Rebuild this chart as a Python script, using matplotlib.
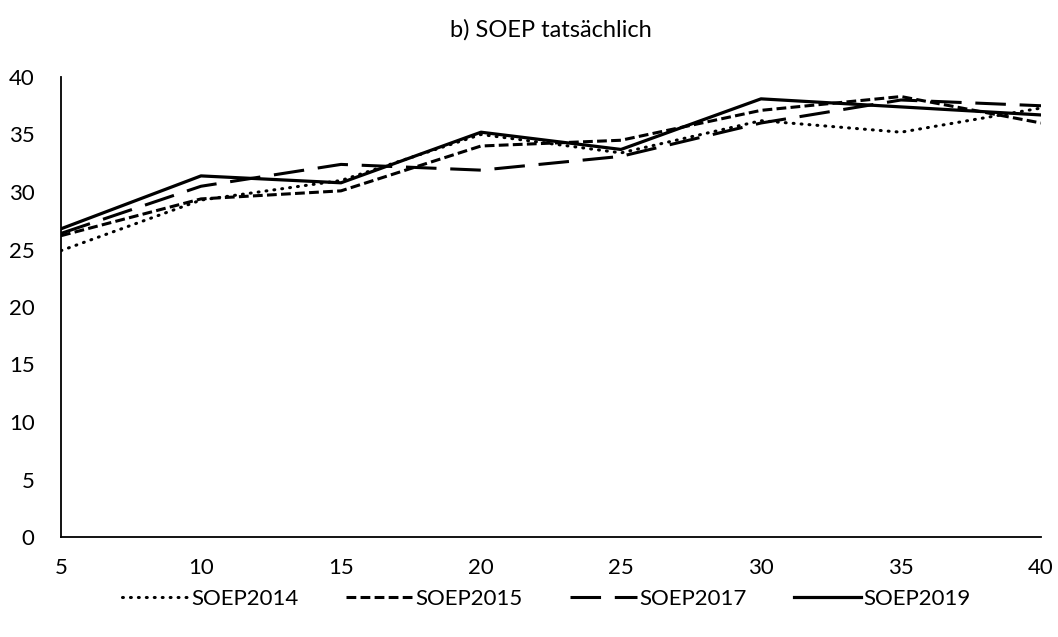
import matplotlib
matplotlib.use("Agg")
import matplotlib.pyplot as plt

plt.rcParams['font.family'] = ['Lato', 'DejaVu Sans']

# Data
x_vals = [5, 10, 15, 20, 25, 30, 35, 40]
soep2014 = [24.9, 29.3, 31.0, 35.0, 33.4, 36.2, 35.2, 37.3]
soep2015 = [26.2, 29.4, 30.1, 34.0, 34.5, 37.1, 38.3, 36.0]
soep2017 = [26.4, 30.5, 32.4, 31.9, 33.1, 36.0, 38.0, 37.5]
soep2019 = [26.8, 31.4, 30.8, 35.2, 33.7, 38.1, 37.4, 36.7]

fig = plt.figure(figsize=(10.58, 6.37), dpi=100)
ax = fig.add_axes([61 / 1058, 1 - 537 / 637, 980 / 1058, 460 / 637])

ax.plot(x_vals, soep2014, color='black', lw=2.2, linestyle=(0, (0.3, 2.3)),
        dash_capstyle='round', label='SOEP2014')
ax.plot(x_vals, soep2015, color='black', lw=2.2, linestyle=(0, (3.2, 1.4)),
        label='SOEP2015')
ax.plot(x_vals, soep2017, color='black', lw=2.2, linestyle=(0, (10, 4.5)),
        label='SOEP2017')
ax.plot(x_vals, soep2019, color='black', lw=2.3, linestyle='-',
        label='SOEP2019')

ax.set_title('b) SOEP tatsächlich', fontsize=17, pad=29)
ax.set_xlim(5, 40)
ax.set_ylim(0, 40)
ax.set_xticks(x_vals)
ax.set_yticks(range(0, 41, 5))
ax.tick_params(axis='both', length=0, labelsize=16)
ax.tick_params(axis='x', pad=15)
ax.tick_params(axis='y', pad=19)
for side in ['top', 'right']:
    ax.spines[side].set_visible(False)
for side in ['left', 'bottom']:
    ax.spines[side].set_linewidth(1.3)

ax.legend(loc='upper center', bbox_to_anchor=(0.495, -0.07), ncol=4,
          frameon=False, fontsize=16, handlelength=3.0, handletextpad=0.1,
          columnspacing=2.15)

fig.savefig('out.png', dpi=100)
